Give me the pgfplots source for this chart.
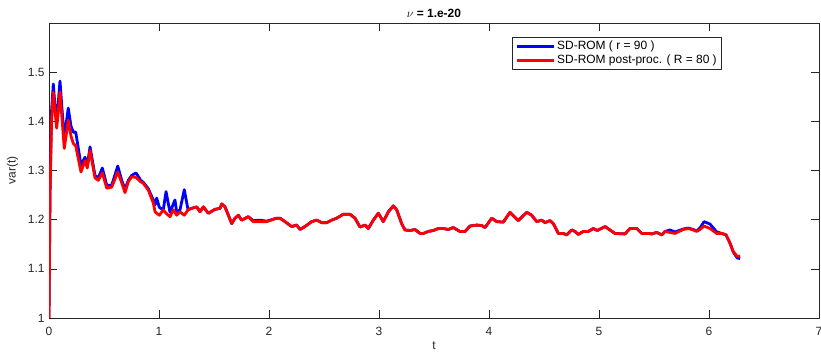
\documentclass[border=0pt]{standalone}
\usepackage{fontspec}
\setmainfont{Liberation Sans}
\usepackage{pgfplots}
\pgfplotsset{compat=1.18}
\usepackage{pgfplotstable}

\definecolor{axgray}{gray}{0.15}
\definecolor{romblue}{rgb}{0,0,1}
\definecolor{romred}{rgb}{1,0,0}

% variance of the SD-ROM solution, r = 90
\pgfplotstableread{
t v
0     1.000
0.009 1.250
0.023 1.420
0.039 1.476
0.055 1.430
0.070 1.400
0.085 1.440
0.100 1.482
0.120 1.420
0.139 1.366
0.175 1.427
0.200 1.390
0.221 1.378
0.243 1.378
0.291 1.311
0.327 1.327
0.348 1.310
0.373 1.348
0.418 1.290
0.448 1.285
0.485 1.305
0.525 1.270
0.570 1.270
0.625 1.309
0.661 1.280
0.691 1.262
0.721 1.280
0.752 1.290
0.791 1.295
0.834 1.280
0.857 1.276
0.903 1.263
0.948 1.240
0.964 1.230
0.979 1.244
1.003 1.225
1.039 1.220
1.064 1.257
1.100 1.215
1.145 1.240
1.161 1.215
1.191 1.220
1.230 1.261
1.264 1.220
1.297 1.223
1.343 1.226
1.373 1.216
1.403 1.226
1.448 1.213
1.509 1.221
1.555 1.223
1.570 1.232
1.600 1.226
1.661 1.192
1.691 1.203
1.721 1.209
1.752 1.199
1.812 1.206
1.857 1.198
1.918 1.199
1.979 1.197
2.070 1.203
2.100 1.203
2.145 1.196
2.206 1.186
2.252 1.189
2.282 1.180
2.327 1.186
2.388 1.196
2.434 1.199
2.479 1.194
2.525 1.194
2.570 1.199
2.615 1.203
2.675 1.211
2.736 1.211
2.782 1.203
2.827 1.185
2.873 1.189
2.903 1.182
2.948 1.199
2.994 1.213
3.039 1.196
3.085 1.216
3.130 1.228
3.161 1.220
3.206 1.192
3.236 1.179
3.282 1.178
3.327 1.180
3.373 1.172
3.403 1.172
3.448 1.176
3.494 1.178
3.539 1.182
3.585 1.182
3.630 1.180
3.675 1.184
3.736 1.176
3.782 1.176
3.827 1.187
3.888 1.189
3.934 1.188
3.964 1.184
4.025 1.203
4.070 1.196
4.130 1.195
4.191 1.215
4.266 1.198
4.343 1.215
4.388 1.209
4.434 1.196
4.479 1.199
4.509 1.194
4.555 1.198
4.585 1.192
4.630 1.172
4.675 1.172
4.706 1.169
4.752 1.179
4.782 1.176
4.812 1.170
4.857 1.176
4.903 1.176
4.948 1.182
4.985 1.178
5.055 1.186
5.100 1.179
5.145 1.172
5.236 1.171
5.282 1.182
5.343 1.182
5.388 1.172
5.448 1.172
5.479 1.171
5.525 1.174
5.570 1.169
5.600 1.176
5.645 1.179
5.691 1.175
5.766 1.181
5.812 1.183
5.857 1.180
5.888 1.177
5.918 1.183
5.955 1.196
6.009 1.191
6.070 1.175
6.115 1.172
6.155 1.169
6.191 1.152
6.221 1.134
6.257 1.122
6.283 1.121
}\romdata

% variance after post-processing, R = 80
\pgfplotstableread{
t v
0     1.000
0.009 1.250
0.023 1.400
0.039 1.459
0.055 1.420
0.070 1.386
0.085 1.420
0.100 1.460
0.120 1.400
0.139 1.345
0.175 1.402
0.200 1.370
0.221 1.355
0.243 1.350
0.291 1.297
0.327 1.320
0.348 1.305
0.373 1.341
0.418 1.285
0.448 1.280
0.485 1.295
0.525 1.264
0.570 1.266
0.625 1.297
0.661 1.275
0.691 1.255
0.721 1.277
0.752 1.287
0.791 1.286
0.834 1.277
0.857 1.274
0.903 1.260
0.948 1.234
0.964 1.216
0.979 1.213
1.003 1.209
1.039 1.220
1.064 1.213
1.100 1.206
1.130 1.220
1.161 1.209
1.191 1.216
1.230 1.209
1.264 1.220
1.297 1.223
1.343 1.226
1.373 1.216
1.403 1.226
1.448 1.213
1.509 1.221
1.555 1.223
1.570 1.232
1.600 1.226
1.661 1.192
1.691 1.203
1.721 1.209
1.752 1.199
1.812 1.206
1.857 1.196
1.918 1.196
1.979 1.196
2.070 1.203
2.100 1.203
2.145 1.196
2.206 1.186
2.252 1.189
2.282 1.180
2.327 1.186
2.388 1.196
2.434 1.199
2.479 1.194
2.525 1.194
2.570 1.199
2.615 1.203
2.675 1.211
2.736 1.211
2.782 1.203
2.827 1.185
2.873 1.189
2.903 1.182
2.948 1.199
2.994 1.213
3.039 1.196
3.085 1.216
3.130 1.228
3.161 1.220
3.206 1.192
3.236 1.179
3.282 1.178
3.327 1.180
3.373 1.172
3.403 1.172
3.448 1.176
3.494 1.178
3.539 1.182
3.585 1.182
3.630 1.180
3.675 1.184
3.736 1.176
3.782 1.176
3.827 1.187
3.888 1.189
3.934 1.188
3.964 1.184
4.025 1.203
4.070 1.196
4.130 1.195
4.191 1.215
4.266 1.198
4.343 1.215
4.388 1.209
4.434 1.196
4.479 1.199
4.509 1.194
4.555 1.198
4.585 1.192
4.630 1.172
4.675 1.172
4.706 1.169
4.752 1.179
4.782 1.176
4.812 1.170
4.857 1.176
4.903 1.176
4.948 1.182
4.985 1.178
5.055 1.186
5.100 1.179
5.145 1.172
5.236 1.171
5.282 1.182
5.343 1.182
5.388 1.172
5.448 1.172
5.479 1.171
5.525 1.174
5.570 1.169
5.600 1.176
5.645 1.174
5.691 1.172
5.766 1.180
5.812 1.182
5.857 1.179
5.888 1.176
5.918 1.180
5.955 1.187
6.009 1.182
6.070 1.172
6.115 1.172
6.155 1.169
6.191 1.152
6.221 1.135
6.257 1.125
6.283 1.126
}\postdata

\begin{document}
\begin{tikzpicture}
\begin{axis}[
  name=ax,
  scale only axis,
  width=770bp, height=295bp,
  xmin=0, xmax=7, ymin=1, ymax=1.6,
  xtick={0,1,...,7},
  ytick={1,1.1,1.2,1.3,1.4,1.5},
  tick align=inside,
  major tick length=7.7bp,
  axis line style={axgray, line width=0.6bp},
  every tick/.style={axgray, line width=0.6bp},
  /pgf/number format/assume math mode=true,
  tick label style={font=\fontsize{12}{14}\selectfont, text=axgray},
  xticklabel style={yshift=-6bp},
  yticklabel style={xshift=-1bp},
  xlabel={t},
  ylabel={var(t)},
  label style={font=\fontsize{12}{14}\selectfont, text=axgray},
  xlabel style={yshift=1.5bp},
  ylabel style={yshift=3bp},
  title={$\nu$ \textbf{= 1.e-20}},
  title style={font=\fontsize{12}{14}\selectfont, yshift=-4bp},
  legend style={
    at={(0.874,0.953)}, anchor=north east,
    draw=axgray, line width=0.5bp,
    font=\fontsize{12}{14}\selectfont,
    inner xsep=3bp, inner ysep=2bp,
    row sep=0bp,
  },
  legend cell align=left,
  legend image code/.code={\draw[#1, line width=2.8bp] (0bp,0bp) -- (37bp,0bp);},
  line join=round,
]
\addplot[romblue, line width=2.8bp] table[x=t, y=v] {\romdata};
\addlegendentry{SD-ROM ( r = 90 )}
\addplot[romred, line width=2.8bp] table[x=t, y=v] {\postdata};
\addlegendentry{SD-ROM post-proc. ( R = 80 )}
\end{axis}
\pgfresetboundingbox
\path[use as bounding box] ([xshift=-49bp,yshift=-35bp]ax.south west)
  rectangle ([xshift=2bp,yshift=23bp]ax.north east);
\end{tikzpicture}
\end{document}
